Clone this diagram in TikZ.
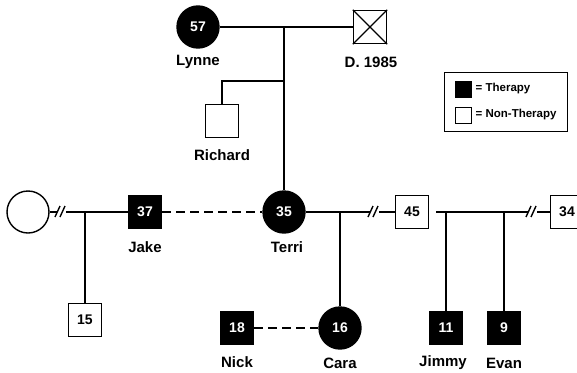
\documentclass[tikz,border=0pt]{standalone}
\usepackage{fontspec}
\setmainfont{Liberation Sans}
\begin{document}
\begin{tikzpicture}[x=1pt,y=-1pt,
  line width=1.4pt,
  pbase/.style={draw=black,line width=1.4pt,inner sep=0pt,font=\fontsize{14}{15}\selectfont\bfseries},
  male/.style={pbase,rectangle,minimum size=33pt,fill=white},
  mtherapy/.style={male,fill=black,text=white},
  female/.style={pbase,circle,minimum size=42pt,fill=white},
  ftherapy/.style={female,fill=black,text=white},
  namelbl/.style={font=\fontsize{15}{16}\selectfont\bfseries,inner sep=0pt},
  legtext/.style={font=\fontsize{11.5}{12}\selectfont\bfseries,inner sep=0pt,anchor=west},
  rel/.style={dash pattern=on 9pt off 5pt},
  brk/.style={line width=1.4pt}
]
\useasboundingbox (0,0) rectangle (577,372);

% generation 1
\node[ftherapy] (lynne) at (198,27) {57};
\node[male] (dead) at (370,27) {};
\draw[line width=1.1pt] (dead.north west) -- (dead.south east) (dead.north east) -- (dead.south west);
\node[namelbl] (lynneL) at (198,62) {Lynne};
\node[namelbl] (deadL) at (371,62) {D. 1985};

% generation 2
\node[male] (richard) at (222,121) {};
\node[namelbl] (richardL) at (222,155) {Richard};

\node[female] (ex) at (28,212) {};
\node[mtherapy] (jake) at (145,212) {37};
\node[namelbl] (jakeL) at (145,247) {Jake};
\node[ftherapy] (terri) at (284,212) {35};
\node[namelbl] (terriL) at (287,247) {Terri};
\node[male] (m45) at (412,212) {45};
\node[male] (m34) at (567,212) {34};

% generation 3
\node[male] (s15) at (85,320) {15};
\node[mtherapy] (nick) at (237,328) {18};
\node[namelbl] (nickL) at (237,362) {Nick};
\node[ftherapy] (cara) at (340,328) {16};
\node[namelbl] (caraL) at (340,363) {Cara};
\node[mtherapy] (jimmy) at (446,328) {11};
\node[namelbl] (jimmyL) at (443,363) {Jimmy};
\node[mtherapy] (evan) at (504,328) {9};
\node[namelbl] (evanL) at (504,363) {Evan};

% coordinates
\coordinate (c1) at (284,27);
\coordinate (c2) at (284,81);
\coordinate (c3) at (85,212);
\coordinate (c4) at (340,212);
\coordinate (c5) at (436,212);
\coordinate (c6) at (446,212);
\coordinate (c7) at (504,212);
\coordinate (b1) at (62,212);
\coordinate (b2) at (375,212);
\coordinate (b3) at (533,212);

% connectors
\draw (lynne) -- (dead);
\draw (c1) -- (terri);
\draw (c2) -| (richard);
\draw (ex) -- (jake);
\draw (c3) -- (s15);
\draw[rel] (jake) -- (terri);
\draw (terri) -- (m45);
\draw (c4) -- (cara);
\draw[rel] (nick) -- (cara);
\draw (c5) -- (m34);
\draw (c6) -- (jimmy);
\draw (c7) -- (evan);

% divorce marks
\foreach \b in {b1,b2,b3}{
  \fill[white] ([shift={(-5,-3)}]\b) rectangle ([shift={(4,3)}]\b);
  \draw[brk] ([shift={(-7,5)}]\b) -- ([shift={(-2,-6)}]\b);
  \draw[brk] ([shift={(-2,5)}]\b) -- ([shift={(3,-6)}]\b);
}

% legend
\node[draw=black,line width=1pt,minimum width=123pt,minimum height=59pt,inner sep=0pt] (legend) at (505.5,101.5) {};
\node[draw=black,fill=black,line width=1pt,minimum size=16pt,inner sep=0pt] (legT) at (463,89) {};
\node[draw=black,fill=white,line width=0.8pt,minimum size=16pt,inner sep=0pt] (legN) at (463,115) {};
\node[legtext] (legTt) at (475,89) {= Therapy};
\node[legtext] (legNt) at (475,115) {= Non-Therapy};
\end{tikzpicture}
\end{document}
